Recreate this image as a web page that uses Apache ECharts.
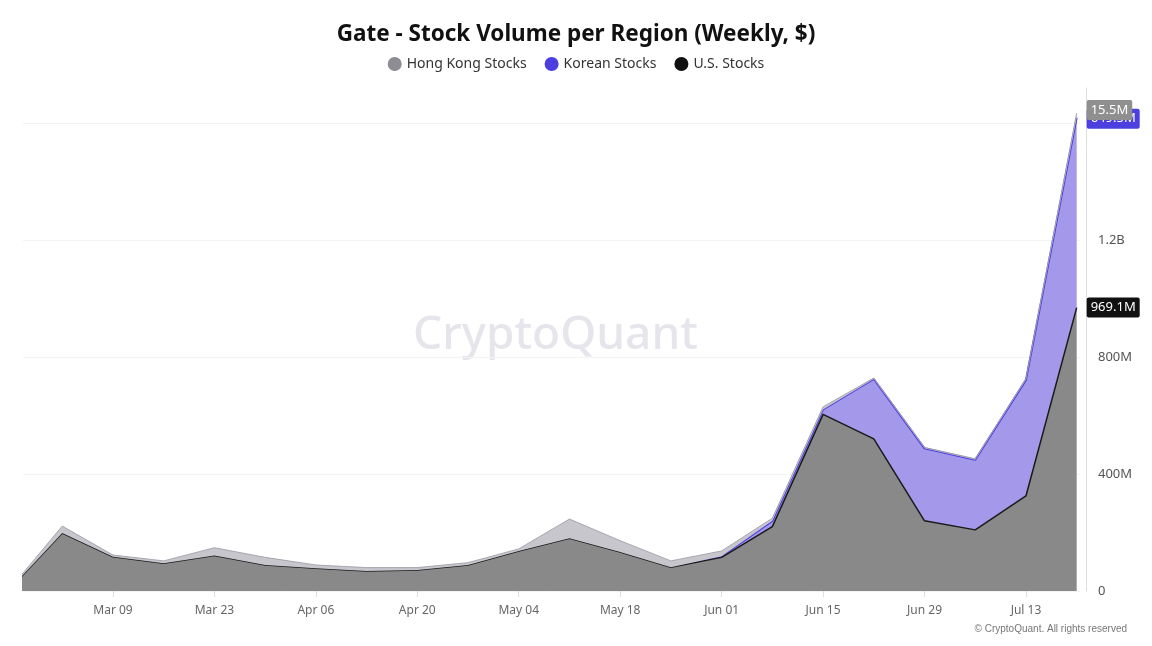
<!DOCTYPE html>
<html>
<head>
<meta charset="utf-8">
<script src="https://cdn.jsdelivr.net/npm/echarts@6/dist/echarts.min.js"></script>
<style>
  html, body { margin: 0; padding: 0; background: #fff; }
  #main { width: 1152px; height: 646px; }
</style>
</head>
<body>
<div id="main"></div>
<script>
// weekly dates
var dates = ['2025-02-23', '2025-03-02', '2025-03-09', '2025-03-16', '2025-03-23', '2025-03-30',
    '2025-04-06', '2025-04-13', '2025-04-20', '2025-04-27', '2025-05-04', '2025-05-11',
    '2025-05-18', '2025-05-25', '2025-06-01', '2025-06-08', '2025-06-15', '2025-06-22',
    '2025-06-29', '2025-07-06', '2025-07-13', '2025-07-20'];

// volumes in millions of $
var usStocks = [13, 198, 117, 95, 121, 89, 78, 68, 72, 89, 137, 180,
    133, 81, 115, 220, 604, 520, 240, 209, 325, 969.1];
var koreanStocks = [0, 0, 0, 0, 0, 0, 0, 0, 0, 0, 0, 0,
    0, 0, 4, 20, 17, 205, 248, 240, 397, 649.5];
var hkStocks = [1, 24, 6, 8, 27, 26, 11, 12, 8, 8, 7, 66,
    39, 22, 18, 9, 9, 3, 3, 3, 3, 15.5];

var tickDates = ['2025-03-09', '2025-03-23', '2025-04-06', '2025-04-20', '2025-05-04',
    '2025-05-18', '2025-06-01', '2025-06-15', '2025-06-29', '2025-07-13'];

function toTime(s, h) {
    var p = s.split('-');
    return new Date(+p[0], +p[1] - 1, +p[2], h || 0).getTime();
}

function pairs(vals) {
    var out = [];
    for (var i = 0; i < dates.length; i++) {
        out.push([toTime(dates[i]), vals[i] * 1e6]);
    }
    return out;
}

function fmtM(v) {
    if (v >= 1e9) return (v / 1e9).toFixed(1) + 'B';
    return (v / 1e6).toFixed(1) + 'M';
}

var ticks = tickDates.map(function (d) { return toTime(d); });

var myChart = echarts.init(document.getElementById('main'));

var option = {
    animation: false,
    textStyle: { fontFamily: 'Noto Sans, sans-serif' },
    title: {
        text: 'Gate - Stock Volume per Region (Weekly, $)',
        left: 'center',
        top: 18,
        textStyle: { fontSize: 22.5, fontWeight: 'bold', color: '#111' }
    },
    legend: {
        top: 52,
        left: 'center',
        icon: 'circle',
        itemWidth: 14,
        itemHeight: 14,
        itemGap: 18,
        textStyle: { fontSize: 14, color: '#333' },
        data: ['Hong Kong Stocks', 'Korean Stocks', 'U.S. Stocks']
    },
    grid: { left: 23, right: 72, top: 88, bottom: 55 },
    xAxis: {
        type: 'time',
        min: toTime('2025-02-24', 14),
        max: toTime('2025-07-20', 11),
        axisLine: { show: false },
        axisTick: { show: true, customValues: ticks, length: 6, lineStyle: { color: '#ddd' } },
        splitLine: { show: false },
        axisLabel: {
            customValues: ticks,
            formatter: '{MMM} {dd}',
            color: '#666',
            fontSize: 12,
            margin: 14
        }
    },
    yAxis: {
        type: 'value',
        position: 'right',
        offset: 6,
        min: 0,
        max: 1.72e9,
        interval: 4e8,
        axisLine: { show: true, lineStyle: { color: '#ddd' } },
        axisTick: { show: false },
        splitLine: { showMaxLine: false, lineStyle: { color: '#f3f3f3' } },
        axisLabel: {
            showMaxLabel: false,
            color: '#555',
            fontSize: 13,
            margin: 12,
            formatter: function (v) {
                if (v === 0) return '0';
                if (v >= 1e9) return (v / 1e9) + 'B';
                return (v / 1e6) + 'M';
            }
        }
    },
    graphic: [
        {
            type: 'text',
            left: 413,
            top: 313,
            silent: true,
            style: { text: 'CryptoQuant', fontSize: 46, fontWeight: 500, fill: 'rgba(200,198,212,0.45)', fontFamily: 'Noto Sans' }
        },
        {
            type: 'text',
            right: 25,
            top: 624,
            style: { text: '\u00a9 CryptoQuant. All rights reserved', fontSize: 10, fill: '#777', fontFamily: 'Liberation Sans' }
        }
    ],
    series: [
        {
            name: 'U.S. Stocks',
            type: 'line',
            stack: 'vol',
            z: 4,
            showSymbol: false,
            data: pairs(usStocks),
            itemStyle: { color: '#111' },
            lineStyle: { color: '#1a1a1a', width: 1.5 },
            areaStyle: { color: '#898989', opacity: 1 },
            endLabel: {
                show: true,
                distance: 10,
                formatter: function (p) { return fmtM(p.value[1]); },
                color: '#fff',
                fontSize: 13,
                backgroundColor: '#111',
                padding: [4, 4, 3, 4],
                borderRadius: 2
            }
        },
        {
            name: 'Korean Stocks',
            type: 'line',
            stack: 'vol',
            z: 3,
            showSymbol: false,
            data: pairs(koreanStocks),
            itemStyle: { color: '#4b3fe0' },
            lineStyle: { color: '#4b3fe0', width: 2 },
            areaStyle: { color: '#a398ea', opacity: 1 },
            endLabel: {
                show: true,
                distance: 10,
                offset: [0, 1],
                formatter: function (p) { return fmtM(p.value[1]); },
                color: '#fff',
                fontSize: 13,
                backgroundColor: '#4b3fe0',
                padding: [4, 4, 3, 4],
                borderRadius: 2
            }
        },
        {
            name: 'Hong Kong Stocks',
            type: 'line',
            stack: 'vol',
            z: 5,
            showSymbol: false,
            data: pairs(hkStocks),
            itemStyle: { color: '#8e8d93' },
            lineStyle: { color: '#a19fa8', width: 0.9 },
            areaStyle: { color: '#c7c6cd', opacity: 1 },
            endLabel: {
                show: true,
                distance: 10,
                offset: [0, -3],
                formatter: function (p) { return fmtM(p.value[1]); },
                color: '#fff',
                fontSize: 13,
                backgroundColor: '#8f8f8f',
                padding: [4, 4, 3, 4],
                borderRadius: 2
            }
        }
    ]
};

myChart.setOption(option);
</script>
</body>
</html>
